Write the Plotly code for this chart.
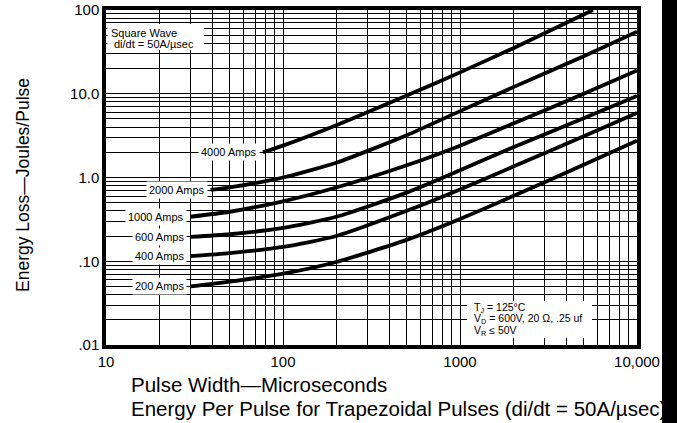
import math
import plotly.graph_objects as go

# ---- data ----
pulse_width_us = [30, 50, 100, 200, 500, 1000, 2000, 5000, 10000]
energy_200A = [0.050, 0.057, 0.071, 0.098, 0.18, 0.32, 0.60, 1.42, 2.75]
energy_400A = [0.115, 0.125, 0.148, 0.20, 0.40, 0.72, 1.35, 3.1, 5.9]
energy_600A = [0.195, 0.21, 0.25, 0.34, 0.66, 1.22, 2.3, 5.1, 9.4]
energy_1000A = [0.34, 0.39, 0.52, 0.76, 1.4, 2.4, 4.4, 10.0, 19.0]

pulse_width_2000A = [39, 50, 100, 200, 500, 1000, 2000, 5000, 10000]
energy_2000A = [0.71, 0.76, 1.0, 1.5, 3.2, 6.2, 12.0, 28.0, 55.0]

pulse_width_4000A = [77, 100, 200, 500, 1000, 2000, 5640]
energy_4000A = [2.0, 2.4, 4.2, 9.5, 18.0, 35.0, 100.0]

series_names = ["200 Amps", "400 Amps", "600 Amps", "1000 Amps", "2000 Amps", "4000 Amps"]
series_x = [pulse_width_us, pulse_width_us, pulse_width_us, pulse_width_us,
            pulse_width_2000A, pulse_width_4000A]
series_y = [energy_200A, energy_400A, energy_600A, energy_1000A,
            energy_2000A, energy_4000A]

x_major = [10, 100, 1000, 10000]
x_major_text = ["10", "100", "1000", "10,000"]
y_major = [0.01, 0.1, 1, 10, 100]
y_major_text = [".01", ".10", "1.0", "10.0", "100"]

FONT = "Liberation Sans, Arial, Helvetica, sans-serif"

# plot frame in pixels (figure uses zero margins; axes placed by domain)
W, H = 677, 423
L, R, T, B = 106, 637, 10, 345
EDGE = 662  # start of the dark scan edge on the right


def px(p):
    return p / W


def py(p):
    return (H - p) / H


def minor_vals(lo_exp, hi_exp):
    vals = []
    for e in range(lo_exp, hi_exp):
        for m in range(2, 10):
            vals.append(m * 10 ** e)
    return vals


fig = go.Figure()
for name, xs, ys in zip(series_names, series_x, series_y):
    fig.add_trace(go.Scatter(
        x=xs, y=ys, mode="lines", name=name,
        line=dict(color="black", width=3.8, shape="spline", smoothing=0.6),
        showlegend=False, hoverinfo="skip",
    ))

annotations = []
for name, xs, ys in zip(series_names, series_x, series_y):
    annotations.append(dict(
        x=math.log10(xs[0]), y=math.log10(ys[0]), xref="x", yref="y",
        text=name, showarrow=False, xanchor="right", yanchor="middle",
        xshift=-3, bgcolor="white", borderpad=2,
        font=dict(family=FONT, size=11, color="black"),
    ))


def note(text, x, y, size, anchor="left"):
    annotations.append(dict(
        x=px(x), y=py(y), xref="paper", yref="paper", text=text,
        showarrow=False, xanchor=anchor, yanchor="middle",
        font=dict(family=FONT, size=size, color="black"),
    ))


note("Square Wave", 109, 33, 11)
note("di/dt = 50A/µsec", 112, 44, 11)
note("T<sub>J</sub> = 125°C", 472, 308, 10.5)
note("V<sub>D</sub> = 600V, 20 Ω, .25 uf", 472, 319, 10.5)
note("V<sub>R</sub> ≤ 50V", 472, 331, 10.5)
note("Pulse Width—Microseconds", 129, 384, 20.5)
note("Energy Per Pulse for Trapezoidal Pulses (di/dt = 50A/µsec)", 129, 408, 20.5)
annotations.append(dict(
    x=px(23), y=py(185), xref="paper", yref="paper",
    text="Energy Loss—Joules/Pulse", showarrow=False, textangle=-90,
    xanchor="center", yanchor="middle",
    font=dict(family=FONT, size=17.5, color="black"),
))

shapes = [
    # white page area; the paper background left uncovered forms the dark scan edge
    dict(type="rect", xref="paper", yref="paper",
         x0=0.0, x1=px(EDGE), y0=0.0, y1=1.0,
         fillcolor="white", line=dict(width=0), layer="below"),
    # white boxes behind the two notes
    dict(type="rect", xref="paper", yref="paper",
         x0=px(107.5), x1=px(204), y0=py(50), y1=py(24),
         fillcolor="white", line=dict(width=0), layer="above"),
    dict(type="rect", xref="paper", yref="paper",
         x0=px(467), x1=px(592), y0=py(338), y1=py(301),
         fillcolor="white", line=dict(width=0), layer="above"),
]

axis_common = dict(
    type="log", showgrid=True, gridcolor="black", gridwidth=1.3,
    ticks="", showline=True, linecolor="black", linewidth=3.5, mirror=True,
    tickfont=dict(family=FONT, size=15, color="black"), zeroline=False,
    tickmode="array",
)

fig.update_layout(
    width=W, height=H,
    margin=dict(l=0, r=0, t=0, b=0, autoexpand=False),
    paper_bgcolor="black", plot_bgcolor="white",
    xaxis=dict(range=[1, 4], domain=[L / W, R / W],
               tickvals=x_major, ticktext=x_major_text,
               minor=dict(tickmode="array", tickvals=minor_vals(1, 4),
                          showgrid=True, gridcolor="black", gridwidth=1.1, ticks=""),
               **axis_common),
    yaxis=dict(range=[-2, 2], domain=[(H - B) / H, (H - T) / H],
               tickvals=y_major, ticktext=y_major_text,
               minor=dict(tickmode="array", tickvals=minor_vals(-2, 2),
                          showgrid=True, gridcolor="black", gridwidth=1.1, ticks=""),
               **axis_common),
    annotations=annotations,
    shapes=shapes,
)

fig.write_html(
    "out.html", config={"displayModeBar": False},
    post_script=("document.body.style.margin='0px';"
                 "document.body.style.overflow='hidden';"
                 "document.documentElement.style.overflow='hidden';"),
)
